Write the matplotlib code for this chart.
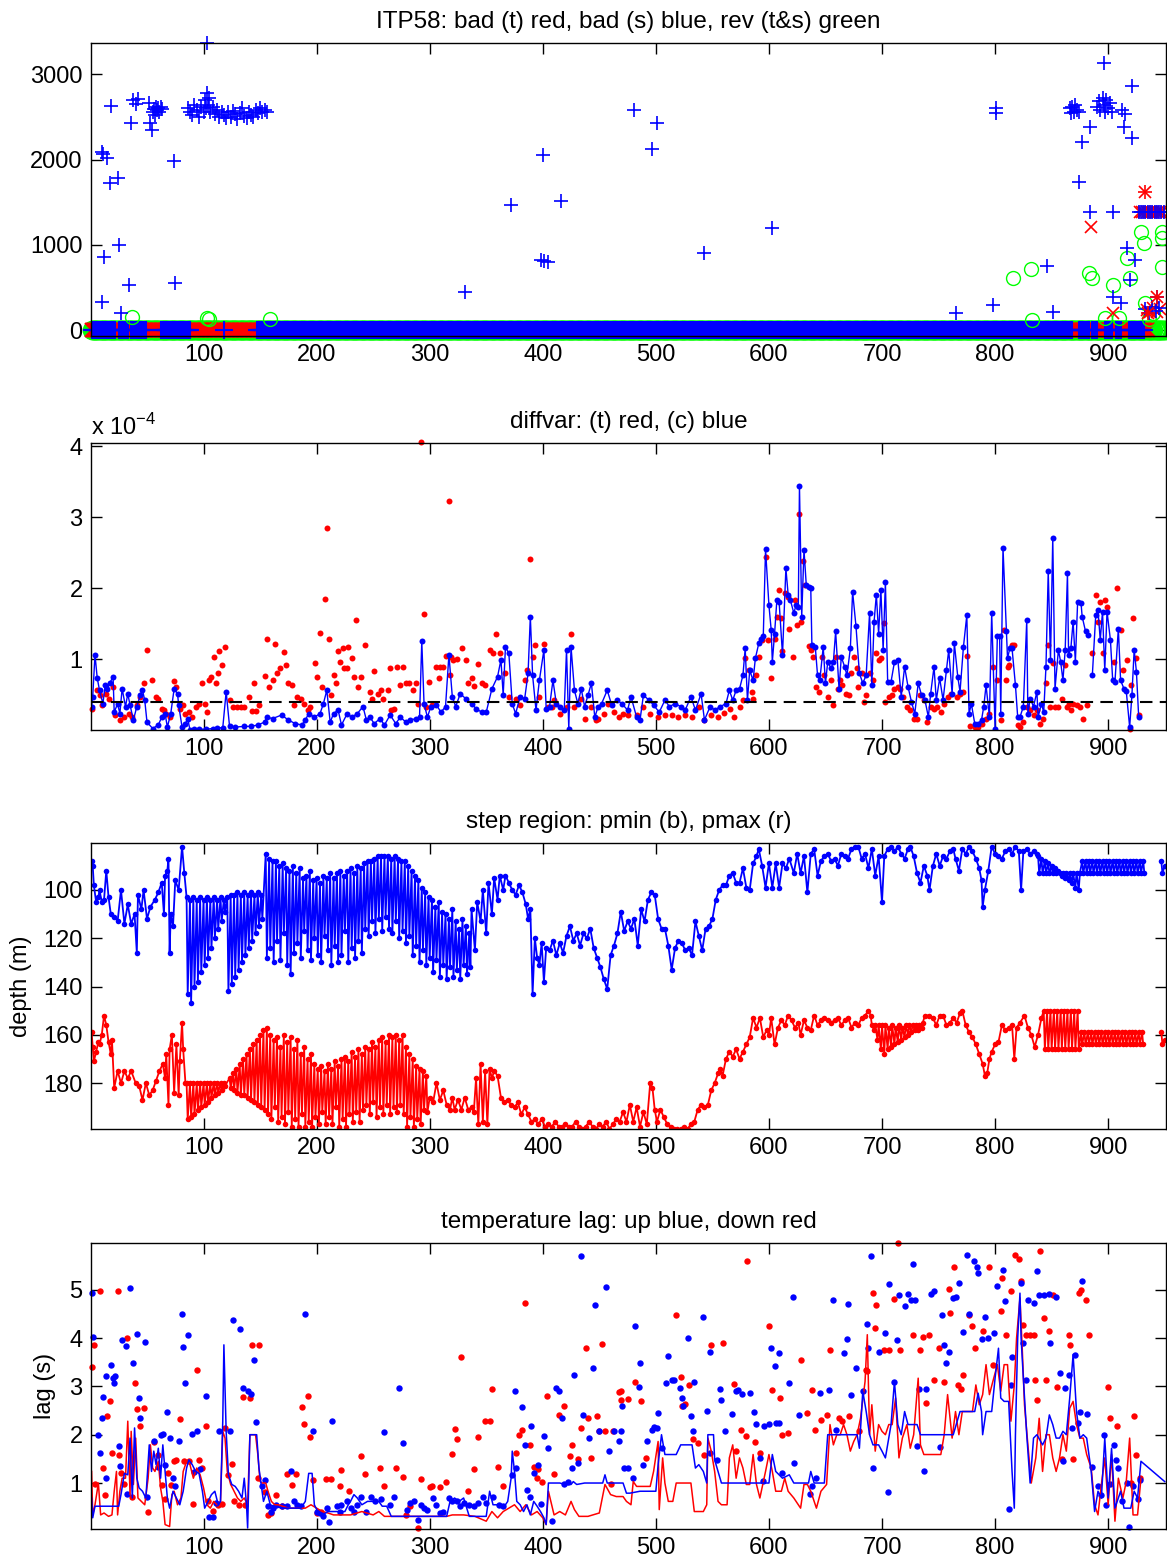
import matplotlib
matplotlib.use('Agg')
import matplotlib.pyplot as plt
import numpy as np

plt.rcParams['font.family'] = ['Liberation Sans', 'DejaVu Sans']
plt.rcParams['font.size'] = 17

# ---------------- panel 1: bad / reversed flags (profile, pressure) ----------------
rev_band = [(1, 950)]
bad_t_band = [(1, 935)]
bad_s_band = [(1, 12), (14, 22), (25, 33), (36, 49), (62, 88), (118, 118), (147, 868),
              (874, 883), (886, 890), (897, 903), (907, 911), (918, 932)]

bad_s_pts = [(10, 2090), (11, 2065), (15, 2017), (17, 1725), (18, 2626), (24, 1784), (12, 863),
             (25, 1000), (10, 337), (27, 208), (34, 532), (36, 2423), (38, 2696), (42, 2710),
             (40, 2650), (52, 2660), (53, 2423), (54, 2340), (55, 2560), (56, 2590), (57, 2520),
             (58, 2610), (59, 2580), (60, 2600), (61, 2560), (62, 2610), (63, 2590), (74, 1982),
             (75, 552), (103, 3360),
             (86, 2600), (88, 2560), (90, 2520), (92, 2640), (94, 2580), (96, 2500), (98, 2620),
             (100, 2560), (101, 2700), (102, 2600), (103, 2780), (104, 2640), (105, 2720),
             (106, 2560), (108, 2610), (110, 2530), (112, 2580), (114, 2500), (116, 2560),
             (118, 2520), (120, 2480), (122, 2550), (124, 2500), (126, 2570), (128, 2530),
             (130, 2470), (132, 2540), (134, 2600), (136, 2510), (138, 2480), (140, 2560),
             (142, 2520), (144, 2500), (146, 2580), (148, 2540), (150, 2600), (152, 2560),
             (154, 2580), (156, 2550),
             (331, 450), (372, 1468), (400, 2050), (398, 825), (401, 810), (405, 800), (416, 1515),
             (481, 2577), (501, 2427), (497, 2123), (543, 906), (603, 1195), (765, 208), (798, 298),
             (801, 2598), (801, 2540), (846, 754), (851, 220),
             (866, 2600), (867, 2540), (868, 2620), (870, 2560), (871, 2640), (872, 2580),
             (874, 2550), (874, 1741), (877, 2208), (884, 2377), (884, 1390), (890, 2620),
             (892, 2680), (893, 2580), (895, 2720), (896, 2640), (897, 2560), (898, 2700),
             (900, 2600), (902, 2660), (903, 2560), (896, 3125), (904, 1390), (904, 395),
             (911, 322), (912, 2580), (915, 2530), (914, 2377), (917, 965), (921, 2860),
             (921, 2250), (924, 825), (919, 590),
             (927, 1390), (929, 1390), (931, 1390), (933, 1390), (935, 1390), (937, 1390),
             (939, 1390), (941, 1390), (943, 1390), (945, 1390), (947, 1390), (949, 1390),
             (933, 250), (936, 210), (939, 270), (942, 230), (945, 260), (943, 395)]

bad_t_pts = [(885, 1214), (904, 204),
             (928, 1390), (930, 1390), (932, 1390), (934, 1390), (936, 1390), (938, 1390),
             (940, 1390), (942, 1390), (944, 1390), (946, 1390), (948, 1390),
             (934, 240), (937, 220), (940, 260), (943, 215), (946, 250)]
bad_t_star = [(933, 1623), (943, 395), (935, 205)]

rev_pts = [(37, 162), (103, 150), (105, 130), (159, 140), (816, 610), (832, 716), (833, 123),
           (883, 672), (886, 610), (897, 146), (904, 532), (910, 146), (917, 848), (919, 610),
           (929, 1156), (932, 1020), (933, 322), (948, 1156), (948, 1080), (948, 746),
           (940, 200), (936, 130)]

# ---------------- panel 2: diffvar (units of 1e-4) ----------------
diffvar_c = [(1, 0.33), (2, 0.47), (4, 1.06), (6, 0.73), (8, 0.56), (11, 0.37), (13, 0.63),
             (15, 0.58), (17, 0.66), (20, 0.75), (21, 0.25), (24, 0.37), (26, 0.23), (28, 0.58),
             (31, 0.33), (33, 0.51), (35, 0.35), (38, 0.14), (41, 0.33), (44, 0.49), (46, 0.56),
             (48, 0.42), (50, 0.11), (55, 0.02), (60, 0.07), (63, 0.18), (66, 0.23), (68, 0.04),
             (71, 0.23), (74, 0.58), (77, 0.51), (78, 0.35), (81, 0.04), (84, 0.09), (86, 0.16),
             (88, 0.0), (92, 0.02), (96, 0.01), (102, 0.01), (108, 0.02), (112, 0.03), (117, 0.03),
             (120, 0.54), (123, 0.05), (128, 0.04), (136, 0.05), (142, 0.05), (148, 0.07),
             (154, 0.11), (156, 0.18), (161, 0.16), (169, 0.21), (175, 0.14), (181, 0.09),
             (187, 0.07), (190, 0.14), (193, 0.23), (198, 0.18), (203, 0.23), (206, 0.37),
             (209, 0.56), (212, 0.11), (215, 0.23), (219, 0.28), (222, 0.07), (227, 0.23),
             (231, 0.18), (236, 0.23), (241, 0.33), (244, 0.14), (247, 0.18), (251, 0.09),
             (256, 0.16), (260, 0.07), (265, 0.21), (270, 0.09), (274, 0.18), (279, 0.11),
             (283, 0.14), (288, 0.16), (291, 0.18), (293, 1.25), (295, 0.37), (298, 0.18),
             (301, 0.33), (306, 0.35), (310, 0.25), (314, 0.33), (317, 1.06), (320, 0.47),
             (323, 0.33), (327, 0.51), (332, 0.44), (337, 0.37), (341, 0.30), (346, 0.25),
             (350, 0.25), (355, 0.58), (360, 0.75), (363, 0.99), (365, 0.49), (367, 1.17),
             (370, 1.08), (373, 0.37), (376, 0.23), (380, 0.47), (384, 0.44), (387, 0.80),
             (389, 1.60), (391, 0.77), (394, 0.28), (397, 0.70), (401, 1.13), (403, 0.30),
             (406, 0.33), (409, 0.70), (412, 0.37), (415, 0.33), (419, 0.28), (421, 1.13),
             (423, 0.02), (425, 1.17), (428, 0.56), (431, 0.37), (434, 0.58), (437, 0.33),
             (440, 0.49), (443, 0.66), (446, 0.18), (449, 0.33), (452, 0.37), (457, 0.56),
             (461, 0.35), (466, 0.42), (470, 0.37), (475, 0.28), (478, 0.47), (483, 0.18),
             (486, 0.14), (489, 0.49), (494, 0.42), (498, 0.35), (503, 0.25), (508, 0.42),
             (512, 0.33), (517, 0.37), (522, 0.33), (526, 0.28), (531, 0.47), (535, 0.28),
             (540, 0.51), (543, 0.14), (548, 0.33), (552, 0.28), (557, 0.33), (562, 0.37),
             (565, 0.56), (568, 0.42), (571, 0.56), (574, 0.58), (577, 0.77), (579, 1.15),
             (581, 0.42), (583, 0.84), (586, 0.70), (588, 1.01), (591, 1.22), (593, 1.29),
             (595, 1.32), (597, 2.55), (600, 1.76), (602, 1.41), (603, 0.96), (605, 1.36),
             (607, 1.83), (609, 1.81), (612, 1.06), (615, 2.28), (617, 1.91), (619, 1.83),
             (622, 1.65), (624, 1.76), (626, 1.74), (627, 3.44), (629, 1.60), (631, 2.54),
             (633, 2.05), (635, 2.02), (637, 2.00), (638, 1.20), (641, 1.17), (643, 0.77),
             (645, 0.70), (648, 1.17), (650, 0.66), (652, 0.96), (655, 0.87), (657, 0.96),
             (659, 1.39), (662, 0.58), (664, 1.03), (667, 0.89), (669, 0.77), (672, 1.15),
             (674, 1.95), (677, 1.46), (680, 0.80), (683, 0.66), (686, 0.77), (689, 1.65),
             (691, 0.63), (693, 1.53), (695, 1.91), (697, 1.36), (699, 1.98), (701, 1.13),
             (703, 2.09), (705, 0.68), (708, 0.68), (711, 0.96), (714, 0.99), (717, 0.47),
             (720, 0.89), (723, 0.61), (726, 0.40), (729, 0.23), (732, 0.66), (735, 0.49),
             (738, 0.42), (741, 0.18), (743, 0.51), (746, 0.89), (748, 0.42), (751, 0.73),
             (754, 0.42), (757, 0.84), (759, 1.13), (762, 0.51), (764, 1.22), (767, 0.75),
             (769, 0.54), (772, 1.17), (775, 1.62), (777, 0.23), (779, 0.37), (782, 0.09),
             (785, 0.09), (788, 0.14), (790, 0.33), (792, 0.63), (795, 0.18), (797, 1.65),
             (800, 0.02), (802, 1.32), (804, 1.32), (805, 0.23), (807, 2.57), (810, 1.39),
             (811, 1.01), (813, 1.15), (815, 1.15), (818, 0.63), (820, 0.18), (822, 0.18),
             (825, 0.33), (828, 1.55), (829, 0.23), (831, 0.44), (834, 0.33), (837, 0.54),
             (838, 0.18), (841, 0.37), (843, 0.25), (845, 0.89), (847, 2.24), (849, 0.99),
             (851, 2.71), (853, 0.58), (856, 1.13), (858, 0.96), (860, 0.70), (862, 1.13),
             (864, 2.21), (865, 1.06), (867, 1.15), (869, 1.53), (871, 0.96), (873, 1.81),
             (876, 1.79), (877, 1.60), (880, 1.39), (882, 1.34), (884, np.nan), (886, 0.77),
             (889, 1.62), (891, 1.69), (893, 1.27), (895, 1.67), (897, 0.84), (899, 1.67),
             (902, 1.27), (904, 0.70), (906, 0.68), (909, 1.43), (911, 0.70), (914, 0.58),
             (916, 0.55), (919, 0.04), (921, 0.49), (923, 1.13), (925, 0.82), (927, 0.18)]

diffvar_t = [(1, 0.30), (6, 0.56), (8, 0.49), (10, 0.35), (14, 0.51), (16, 0.44), (20, 0.61),
             (22, 0.21), (26, 0.14), (30, 0.18), (34, 0.23), (37, 0.18), (41, 0.35), (44, 0.47),
             (47, 0.66), (50, 1.13), (54, 0.71), (58, 0.47), (60, 0.44), (63, 0.30), (65, 0.28),
             (67, 0.23), (70, 0.18), (74, 0.69), (76, 0.61), (79, 0.30), (82, 0.35), (84, 0.23),
             (87, 0.25), (90, 0.18), (93, 0.33), (96, 0.37), (99, 0.66), (101, 0.37), (103, 0.25),
             (105, 0.70), (107, 0.74), (109, 1.03), (111, 0.66), (113, 0.80), (114, 1.12),
             (116, 0.92), (119, 1.17), (123, 0.42), (126, 0.33), (130, 0.32), (133, 0.33),
             (136, 0.33), (140, 0.47), (143, 0.27), (145, 0.66), (146, 0.27), (149, 0.35),
             (154, 0.76), (156, 1.29), (158, 0.60), (161, 0.70), (163, 1.21), (165, 0.80),
             (168, 0.87), (171, 1.10), (173, 0.92), (175, 0.66), (178, 0.63), (180, 0.35),
             (183, 0.47), (186, 0.44), (189, 0.37), (192, 0.28), (194, 0.33), (199, 0.94),
             (200, 0.75), (203, 1.37), (205, 0.61), (207, 1.85), (209, 2.85), (211, 1.28),
             (213, 0.49), (215, 0.77), (217, 0.66), (219, 1.12), (221, 0.96), (223, 1.15),
             (224, 0.88), (227, 0.88), (228, 1.17), (231, 1.02), (233, 0.75), (235, 1.55),
             (237, 0.61), (239, 0.74), (243, 1.20), (247, 0.54), (249, 0.44), (251, 0.83),
             (254, 0.51), (257, 0.56), (259, 0.44), (263, 0.56), (265, 0.87), (266, 0.28),
             (268, 0.29), (271, 0.89), (274, 0.64), (276, 0.89), (279, 0.66), (282, 0.66),
             (285, 0.56), (288, 0.66), (290, 0.37), (292, 4.06), (295, 1.63), (297, 0.33),
             (299, 0.68), (302, 0.35), (306, 0.89), (308, 0.73), (309, 0.89), (312, 0.89),
             (314, 1.04), (317, 3.23), (318, 0.77), (319, 1.03), (321, 0.99), (324, 1.00),
             (329, 1.15), (332, 0.98), (334, 0.66), (337, 0.73), (339, 0.62), (343, 0.93),
             (346, 0.66), (349, 0.63), (353, 1.13), (356, 1.09), (359, 1.36), (362, 1.08),
             (367, 0.80), (370, 0.47), (376, 0.44), (380, 0.35), (384, 0.71), (386, 0.84),
             (389, 2.41), (391, 1.03), (393, 1.20), (397, 0.47), (401, 1.21), (405, 0.33),
             (408, 0.33), (410, 0.42), (415, 0.23), (421, 0.33), (425, 1.35), (428, 0.33),
             (434, 0.44), (437, 0.16), (443, 0.33), (447, 0.14), (449, 0.16), (454, 0.23),
             (458, 0.37), (463, 0.25), (467, 0.18), (471, 0.23), (475, 0.21), (483, 0.21),
             (489, 0.33), (495, 0.23), (502, 0.18), (508, 0.21), (514, 0.21), (520, 0.18),
             (526, 0.21), (532, 0.18), (538, 0.33), (543, 0.14), (549, 0.21), (555, 0.18),
             (560, 0.24), (566, 0.30), (569, 0.18), (574, 0.33), (577, 0.42), (579, 1.01),
             (582, 0.84), (585, 0.54), (586, 0.44), (589, 0.77), (591, 1.03), (594, 1.27),
             (597, 2.44), (599, 1.27), (602, 0.73), (605, 1.29), (607, 1.60), (609, 1.97),
             (611, 1.58), (612, 1.12), (614, 1.93), (617, 1.88), (618, 1.43), (621, 1.03),
             (623, 1.83), (625, 1.48), (627, 3.05), (628, 1.53), (630, 2.38), (632, 2.05),
             (635, 1.18), (637, 1.13), (639, 1.03), (642, 0.61), (644, 0.54), (647, 1.03),
             (649, 0.77), (652, 0.47), (655, 0.70), (657, 0.35), (659, 1.03), (661, 0.58),
             (663, 0.71), (665, 0.63), (668, 0.51), (671, 0.49), (673, 0.80), (675, 1.03),
             (678, 0.87), (679, 0.60), (682, 0.80), (684, 0.40), (686, 0.49), (689, 0.80),
             (692, 0.71), (695, 1.08), (697, 0.99), (699, 1.01), (702, 1.51), (703, 0.40),
             (706, 0.47), (709, 0.49), (711, 0.58), (714, 0.61), (716, 0.58), (719, 0.47),
             (722, 0.33), (725, 0.28), (728, 0.16), (731, 0.16), (734, 0.49), (737, 0.42),
             (740, 0.11), (743, 0.33), (746, 0.30), (749, 0.33), (752, 0.25), (755, 0.37),
             (758, 0.47), (761, 0.51), (766, 0.47), (769, 0.51), (772, 0.54), (775, 1.04),
             (778, 0.05), (782, 0.04), (785, 0.04), (788, 0.09), (792, 0.16), (795, 0.23),
             (798, 0.89), (802, 0.70), (805, 0.14), (808, 1.41), (810, 0.70), (811, 0.89),
             (812, 0.92), (815, 1.20), (817, 1.20), (820, 0.07), (822, 0.04), (825, 0.11),
             (828, 0.33), (831, 0.28), (834, 0.21), (837, 0.28), (840, 0.08), (842, 0.16),
             (845, 0.66), (847, 1.20), (849, 0.33), (851, 0.94), (853, 0.33), (856, 0.33),
             (859, 0.44), (862, 0.92), (864, 0.33), (865, 0.37), (867, 0.28), (869, 0.37),
             (872, 0.35), (875, 0.33), (878, 0.16), (881, 0.35), (886, 1.08), (889, 1.91),
             (891, 1.53), (893, 1.81), (895, 1.08), (897, 1.83), (899, 1.74), (905, 0.96),
             (908, 2.00), (911, 1.41), (913, 0.84), (917, 0.99), (919, 0.02), (920, 0.63),
             (922, 1.58), (925, 1.01), (927, 0.21)]
diffvar_thresh = 0.4

# ---------------- panel 3: step region depths ----------------
# plain stretches (profile, depth)
pmin_a = [(1, 88), (2, 90), (3, 98), (5, 105), (7, 103), (8, 100), (10, 105), (12, 104), (14, 92),
          (16, 103), (18, 110), (21, 111), (24, 113), (27, 100), (30, 114), (33, 106), (36, 114),
          (39, 110), (41, 126), (42, 102), (45, 108), (47, 100), (50, 112), (53, 107), (57, 104),
          (60, 101), (63, 97), (65, 110), (66, 94), (68, 92), (69, 87), (70, 126), (71, 110),
          (73, 115), (75, 96), (78, 100), (81, 82), (83, 93)]
# alternating up/down casts: (profile, first, next)
pmin_zz1 = [(85, 103, 143), (88, 104, 147), (91, 103, 140), (94, 104, 138), (97, 103, 134),
            (100, 104, 131), (103, 103, 128), (106, 104, 124), (109, 103, 120), (112, 104, 116),
            (115, 103, 113), (118, 104, 109), (121, 103, 142), (124, 102, 139), (127, 102, 136),
            (130, 101, 133), (133, 102, 130), (136, 101, 127), (139, 102, 124), (142, 101, 121),
            (145, 102, 118), (148, 101, 115), (151, 102, 112),
            (155, 85, 128), (158, 87, 124), (161, 88, 130), (164, 88, 121), (167, 90, 129),
            (170, 89, 118), (173, 91, 131), (176, 92, 135), (179, 90, 126), (182, 93, 122),
            (185, 91, 128), (188, 95, 117), (191, 94, 125), (194, 92, 129), (197, 96, 120),
            (200, 95, 127), (203, 97, 130), (206, 94, 119), (209, 95, 125), (212, 93, 131),
            (215, 95, 123), (218, 93, 130), (221, 92, 127), (224, 94, 117), (227, 92, 130),
            (230, 91, 124), (233, 93, 128), (236, 90, 121), (239, 91, 126), (242, 89, 116),
            (245, 88, 119), (248, 88, 113), (251, 87, 118), (254, 86, 112), (257, 86, 117),
            (260, 86, 111), (263, 86, 116), (266, 87, 118), (269, 86, 113), (272, 87, 120),
            (275, 88, 117), (278, 88, 122), (281, 90, 119), (284, 92, 127), (287, 94, 123),
            (290, 96, 130), (293, 99, 125), (296, 101, 131), (299, 103, 128), (302, 104, 134),
            (305, 107, 129), (308, 105, 136), (311, 109, 131), (314, 110, 137), (317, 112, 132),
            (320, 108, 136), (323, 113, 133), (326, 116, 137), (329, 112, 131), (332, 115, 135),
            (335, 118, 132)]
pmin_b = [(337, 108), (340, 125), (342, 105), (345, 113), (347, 100), (350, 118), (352, 97),
          (355, 110), (357, 95), (360, 104), (362, 94), (365, 100), (367, 94), (370, 97), (373, 100),
          (376, 102), (379, 98), (382, 101), (385, 106), (387, 112), (389, 108), (391, 143),
          (393, 120), (395, 128), (397, 131), (399, 122), (401, 138), (403, 124), (406, 125),
          (409, 121), (412, 127), (415, 122), (418, 126), (421, 119), (424, 115), (427, 121),
          (430, 118), (433, 123), (436, 118), (439, 120), (442, 116), (445, 124), (448, 128),
          (451, 132), (454, 137), (457, 141), (460, 127), (463, 123), (466, 118), (469, 109),
          (472, 117), (475, 113), (478, 116), (481, 112), (484, 123), (487, 108), (490, 113),
          (493, 104), (496, 101), (499, 102), (502, 112), (505, 116), (508, 116), (511, 123),
          (514, 133), (517, 124), (520, 121), (523, 122), (526, 125), (529, 124), (532, 127),
          (535, 113), (538, 119), (541, 125), (544, 116), (547, 115), (550, 112), (553, 104),
          (556, 100), (559, 98), (562, 98), (565, 94), (568, 93), (571, 97), (574, 97), (577, 91),
          (580, 99), (583, 100), (586, 89), (589, 86), (591, 83), (594, 90), (597, 99), (600, 89),
          (603, 99), (606, 89), (609, 99), (612, 89), (615, 91), (618, 87), (622, 93), (625, 85),
          (628, 93), (631, 86), (634, 101), (637, 85), (640, 83), (643, 94), (646, 88), (649, 86),
          (652, 85), (655, 88), (658, 87), (661, 90), (664, 85), (667, 86), (670, 87), (673, 83),
          (676, 82), (679, 82), (682, 87), (685, 85), (688, 91), (691, 83), (694, 94), (697, 86),
          (700, 105), (702, 86), (705, 83), (708, 82), (711, 84), (714, 82), (717, 85), (720, 87),
          (723, 83), (725, 82), (728, 86), (731, 93), (734, 97), (737, 90), (740, 94), (742, 100),
          (745, 90), (748, 85), (751, 90), (754, 86), (757, 87), (760, 84), (763, 83), (765, 87),
          (768, 92), (771, 83), (774, 85), (777, 82), (780, 84), (783, 87), (786, 91), (788, 96),
          (789, 107), (791, 100), (794, 92), (797, 82), (800, 85), (803, 86), (806, 87), (809, 84),
          (812, 83), (815, 85), (818, 82), (821, 84), (823, 100), (825, 84), (828, 83), (831, 85),
          (834, 84), (837, 85)]
pmin_zz2 = [(838, 86, 93), (841, 87, 93), (844, 88, 93), (847, 89, 93), (850, 90, 93),
            (853, 91, 93), (856, 92, 93), (859, 94, 93), (862, 95, 93), (865, 96, 93),
            (868, 97, 93), (871, 99, 93), (874, 100, 93), (877, 88, 93), (880, 88, 93),
            (883, 88, 93), (886, 88, 93), (889, 88, 93), (892, 88, 93), (895, 88, 93),
            (898, 88, 93), (901, 88, 93), (904, 88, 93), (907, 88, 93), (910, 88, 93),
            (913, 88, 93), (916, 88, 93), (919, 88, 93), (922, 88, 93), (925, 88, 93),
            (928, 88, 93), (931, 88, 93)]
pmin_c = [(935, np.nan), (947, 88), (948, 93), (950, 90)]

pmax_a = [(1, 159), (2, 165), (3, 171), (5, 167), (7, 163), (8, 164), (10, 160), (12, 152),
          (14, 156), (16, 163), (18, 168), (19, 162), (21, 182), (24, 175), (27, 180), (30, 175),
          (33, 178), (36, 175), (40, 180), (43, 181), (46, 187), (49, 180), (52, 185), (55, 183),
          (58, 179), (61, 175), (64, 172), (66, 178), (67, 168), (69, 189), (70, 166), (72, 160),
          (74, 184), (76, 164), (78, 185), (79, 171), (81, 155), (82, 166), (84, 180)]
pmax_zz1 = [(85, 180, 195), (88, 180, 194), (91, 180, 193), (94, 180, 191), (97, 180, 190),
            (100, 180, 189), (103, 180, 188), (106, 180, 186), (109, 180, 185), (112, 180, 184),
            (115, 180, 183), (118, 180, 181), (123, 178, 182), (126, 176, 183), (129, 174, 184),
            (132, 172, 185), (135, 170, 185), (138, 168, 186), (141, 166, 187), (144, 164, 188),
            (147, 162, 189), (150, 160, 190), (153, 158, 191),
            (156, 157, 193), (159, 160, 195), (162, 162, 190), (165, 161, 196), (168, 165, 194),
            (171, 160, 197), (174, 163, 192), (177, 161, 198), (180, 166, 195), (183, 162, 198),
            (186, 168, 193), (189, 165, 198), (192, 170, 196), (195, 168, 198), (198, 172, 194),
            (201, 174, 197), (204, 173, 192), (207, 175, 197), (210, 172, 194), (213, 174, 197),
            (216, 171, 190), (219, 173, 198), (222, 170, 195), (225, 169, 198), (228, 171, 193),
            (231, 167, 196), (234, 169, 192), (237, 166, 196), (240, 168, 191), (243, 165, 189),
            (246, 166, 193), (249, 163, 188), (252, 165, 194), (255, 162, 190), (258, 161, 193),
            (261, 163, 189), (264, 160, 193), (267, 161, 190), (270, 160, 192), (273, 162, 189),
            (276, 160, 193), (279, 165, 198), (282, 168, 194), (285, 170, 198), (288, 173, 195),
            (291, 174, 197), (294, 175, 191), (297, 177, 192)]
pmax_b = [(300, 186), (303, 188), (306, 180), (309, 187), (312, 183), (315, 189), (318, 191),
          (320, 186), (322, 191), (325, 187), (328, 191), (331, 186), (334, 191), (337, 190),
          (339, 192), (341, 178), (343, 197), (345, 172), (347, 196), (349, 175), (351, 197),
          (353, 174), (355, 178), (357, 175), (360, 177), (363, 186), (366, 188), (369, 187),
          (372, 189), (375, 190), (378, 188), (381, 193), (384, 190), (387, 193), (390, 196),
          (393, 195), (396, 197), (399, 195), (402, 198), (405, 197), (408, 198), (411, 196),
          (414, 198), (417, 198), (420, 197), (423, 198), (426, 198), (429, 196), (432, 198),
          (435, 199), (438, 198), (441, 196), (444, 198), (447, 199), (450, 197), (453, 198),
          (456, 196), (459, 199), (462, 197), (465, 195), (468, 196), (471, 192), (474, 196),
          (477, 189), (480, 196), (483, 190), (486, 198), (489, 192), (492, 197), (495, 180),
          (497, 182), (499, 191), (501, 196), (504, 191), (507, 194), (510, 197), (513, 198),
          (516, 199), (519, 199), (522, 199), (525, 198), (528, 199), (531, 197), (534, 196),
          (537, 191), (540, 189), (543, 190), (546, 189), (549, 183), (552, 180), (555, 176),
          (557, 174), (559, 177), (562, 170), (565, 167), (568, 169), (571, 166), (574, 170),
          (577, 167), (580, 164), (583, 161), (586, 153), (589, 157), (592, 153), (595, 161),
          (598, 158), (600, 160), (602, 153), (605, 164), (608, 157), (611, 154), (614, 156),
          (617, 152), (620, 154), (623, 157), (626, 155), (628, 160), (631, 154), (634, 157),
          (637, 158), (640, 152), (643, 156), (646, 154), (649, 153), (652, 154), (655, 155),
          (658, 154), (661, 153), (664, 156), (667, 154), (670, 153), (673, 157), (676, 155),
          (679, 156), (682, 153), (685, 152), (688, 150)]
pmax_zz2 = [(690, 152, 156), (693, 158, 156), (696, 162, 156), (699, 166, 156), (702, 168, 156),
            (705, 166, 157), (708, 165, 156), (711, 164, 157), (714, 163, 156), (717, 162, 157),
            (720, 161, 156), (723, 160, 156), (726, 159, 156), (729, 158, 156), (732, 158, 156),
            (735, 157, 155)]
pmax_c = [(738, 152), (742, 152), (745, 153), (748, 156), (751, 152), (754, 152), (757, 156),
          (760, 155), (763, 153), (766, 155), (769, 151), (771, 150), (774, 156), (777, 159),
          (780, 161), (783, 164), (786, 168), (789, 172), (791, 177), (793, 176), (795, 170),
          (797, 167), (800, 164), (803, 163), (806, 156), (809, 158), (812, 157), (815, 156),
          (817, 170), (819, 157), (822, 155), (826, 152), (829, 157), (832, 160), (835, 165),
          (838, 160), (841, 153)]
pmax_zz3 = [(843, 150, 166), (846, 150, 166), (849, 150, 166), (852, 150, 166), (855, 150, 166),
            (858, 150, 166), (861, 150, 166), (864, 150, 166), (867, 150, 166), (870, 150, 166),
            (873, 150, 166), (876, 159, 164), (879, 159, 164), (882, 159, 164), (885, 159, 164),
            (888, 159, 164), (891, 159, 164), (894, 159, 164), (897, 159, 164), (900, 159, 164),
            (903, 159, 164), (906, 159, 164), (909, 159, 164), (912, 159, 164), (915, 159, 164),
            (918, 159, 164), (921, 159, 164), (924, 159, 164), (927, 159, 164), (930, 159, 164)]
pmax_d = [(935, np.nan), (947, 159), (948, 164), (950, 162)]

# ---------------- panel 4: temperature lag (s) ----------------
lag_up_line = [(1, 0.69), (2, 0.28), (4, 0.52), (10, 0.52), (20, 0.52), (25, 0.52), (27, 0.76),
               (30, 1.2), (33, 1.17), (35, 1.93), (37, 0.69), (39, 2.14), (41, 1.1), (43, 0.9),
               (46, 0.83), (49, 0.69), (52, 1.79), (54, 1.24), (56, 1.66), (58, 1.38), (60, 1.72),
               (62, 1.1), (64, 1.79), (66, 1.24), (68, 0.69), (70, 0.48), (73, 0.83), (76, 0.69),
               (79, 0.55), (82, 0.83), (85, 1.31), (87, 1.48), (90, 1.38), (93, 1.24), (96, 1.2),
               (99, 0.83), (101, 0.48), (104, 0.62), (107, 0.76), (110, 0.83), (113, 0.55),
               (115, 0.62), (117, 2.28), (118, 3.86), (120, 2.07), (122, 1.17), (125, 0.97),
               (128, 0.93), (131, 0.83), (134, 0.69), (136, 1.1), (138, 0.55), (139, 0.07),
               (141, 2.0), (147, 2.0), (149, 1.31), (151, 0.97), (153, 0.62), (156, 0.83),
               (159, 0.55), (162, 0.52), (170, 0.48), (180, 0.48), (186, 0.48), (190, 0.62),
               (193, 1.2), (196, 1.2), (198, 0.55), (201, 0.41), (205, 0.34), (210, 0.41),
               (215, 0.41), (220, 0.41), (225, 0.41), (228, 0.55), (230, 0.62), (233, 0.76),
               (236, 0.69), (240, 0.55), (245, 0.62), (250, 0.62), (255, 0.62), (258, 0.52),
               (262, 0.52), (266, 0.31), (275, 0.31), (285, 0.31), (295, 0.31), (305, 0.31),
               (315, 0.31), (318, 0.62), (322, 0.69), (326, 0.62), (330, 0.69), (335, 0.31),
               (340, 0.31), (345, 0.31), (350, 0.31), (353, 0.83), (356, 0.55), (360, 0.55),
               (365, 0.48), (369, 0.62), (372, 1.1), (373, 1.66), (375, 1.24), (377, 0.62),
               (380, 0.55), (383, 0.41), (386, 0.55), (389, 0.34), (392, 0.62), (395, 0.52),
               (398, 0.41), (401, 0.28), (403, 0.14), (405, 1.0), (410, 1.0), (415, 1.0),
               (420, 0.97), (425, 0.97), (427, 1.03), (430, 0.97), (437, 1.0), (445, 1.0),
               (450, 1.0), (453, 1.0), (455, 1.17), (457, 1.0), (465, 1.0), (471, 1.0),
               (474, 0.79), (477, 0.79), (486, 0.83), (495, 0.83), (500, 0.83), (502, 1.38),
               (505, 2.0), (508, 1.59), (512, 1.59), (518, 1.59), (522, 1.79), (532, 1.79),
               (535, 1.31), (538, 1.38), (542, 1.24), (545, 1.0), (546, 2.0), (551, 2.0),
               (552, 1.48), (555, 1.24), (558, 1.0), (569, 1.0), (585, 1.0), (600, 1.0),
               (603, 1.59), (606, 1.24), (612, 1.1), (618, 1.17), (622, 1.0), (635, 1.0),
               (637, 1.24), (640, 1.0), (649, 1.0), (652, 2.0), (665, 2.0), (671, 2.0), (678, 2.0),
               (680, 1.72), (683, 2.9), (686, 2.48), (689, 2.0), (692, 1.79), (697, 1.79),
               (700, 1.66), (703, 1.52), (708, 2.21), (711, 3.1), (714, 2.21), (717, 2.0),
               (720, 2.48), (723, 2.21), (726, 2.21), (731, 2.21), (734, 2.0), (745, 2.0),
               (754, 2.0), (763, 2.0), (769, 2.48), (782, 2.48), (785, 2.86), (788, 2.48),
               (789, 2.0), (792, 2.48), (797, 2.48), (800, 3.17), (803, 3.79), (805, 2.76),
               (808, 2.69), (812, 2.69), (815, 1.24), (817, 0.48), (818, 2.0), (820, 4.0),
               (822, 4.93), (823, 4.0), (825, 3.17), (828, 2.0), (831, 1.0), (834, 1.93),
               (837, 2.0), (842, 1.79), (845, 1.93), (848, 2.41), (851, 2.21), (854, 1.93),
               (857, 1.93), (860, 2.07), (863, 2.0), (866, 2.76), (869, 3.66), (872, 2.48),
               (875, 1.93), (878, 2.0), (881, 1.93), (885, 1.24), (888, 0.41), (891, 0.83),
               (894, 0.69), (897, 1.93), (900, 0.69), (903, 1.72), (906, 0.48), (911, 0.83),
               (914, 0.48), (920, 0.48), (923, 0.83), (926, 0.69), (929, 1.45), (950, 1.03)]

lag_down_line = [(1, 1.24), (2, 0.34), (4, 0.55), (7, 1.0), (9, 0.34), (12, 0.38), (16, 0.31),
                 (19, 0.34), (21, 0.83), (23, 1.24), (24, 0.34), (26, 0.83), (28, 1.1), (31, 1.1),
                 (33, 2.28), (35, 0.76), (36, 2.07), (38, 0.97), (40, 1.93), (42, 0.69), (45, 0.62),
                 (48, 0.55), (51, 1.1), (53, 1.79), (55, 1.31), (57, 1.24), (60, 1.45), (62, 0.9),
                 (64, 0.62), (66, 0.14), (70, 0.1), (72, 0.76), (74, 0.83), (77, 0.55), (80, 0.69),
                 (82, 1.24), (85, 1.45), (88, 1.38), (91, 1.1), (94, 1.31), (97, 1.17), (100, 0.9),
                 (103, 0.55), (106, 0.48), (109, 0.62), (112, 0.55), (115, 0.62), (117, 2.07),
                 (119, 1.93), (121, 1.24), (124, 0.97), (127, 0.83), (130, 0.69), (133, 0.62),
                 (136, 0.69), (139, 0.55), (141, 2.0), (146, 2.0), (148, 1.59), (150, 1.03),
                 (152, 1.0), (155, 1.0), (157, 0.83), (160, 0.62), (163, 0.55), (166, 0.55),
                 (170, 0.52), (175, 0.48), (180, 0.48), (190, 0.48), (195, 0.55), (200, 0.48),
                 (205, 0.41), (210, 0.38), (215, 0.34), (220, 0.34), (230, 0.34), (240, 0.41),
                 (250, 0.34), (255, 0.41), (260, 0.31), (270, 0.31), (280, 0.31), (290, 0.31),
                 (300, 0.31), (310, 0.31), (315, 0.31), (320, 0.34), (330, 0.34), (340, 0.31),
                 (350, 0.21), (355, 0.41), (360, 0.28), (365, 0.41), (370, 0.48), (375, 0.55),
                 (380, 0.41), (385, 0.55), (390, 0.34), (395, 0.41), (400, 0.28), (403, 0.14),
                 (405, 0.83), (410, 0.34), (415, 0.41), (420, 0.34), (425, 0.62), (428, 0.45),
                 (432, 0.31), (440, 0.31), (450, 0.38), (455, 0.97), (460, 0.76), (465, 0.72),
                 (471, 0.72), (474, 0.62), (478, 0.55), (480, 1.03), (483, 0.93), (491, 0.93),
                 (495, 0.93), (498, 1.24), (502, 1.86), (503, 0.45), (506, 1.52), (508, 1.0),
                 (511, 0.62), (515, 0.62), (518, 1.0), (531, 1.0), (534, 0.41), (542, 0.41),
                 (545, 0.55), (546, 1.93), (549, 1.66), (552, 1.24), (555, 0.62), (558, 0.55),
                 (563, 0.55), (565, 1.52), (568, 1.79), (571, 1.1), (574, 1.52), (577, 1.31),
                 (580, 0.97), (583, 0.97), (586, 1.59), (589, 0.97), (592, 0.69), (597, 1.24),
                 (600, 1.59), (603, 1.24), (606, 0.83), (611, 0.83), (614, 1.1), (617, 0.83),
                 (622, 0.69), (628, 0.48), (631, 0.97), (634, 0.97), (637, 0.83), (642, 0.48),
                 (646, 0.83), (651, 0.97), (654, 2.21), (657, 1.79), (660, 2.0), (663, 2.0),
                 (666, 2.21), (669, 2.0), (672, 1.66), (675, 1.86), (678, 2.0), (681, 2.34),
                 (685, 3.1), (687, 4.07), (689, 2.0), (691, 2.62), (694, 1.66), (697, 2.21),
                 (700, 2.07), (703, 2.0), (706, 2.21), (709, 2.21), (712, 2.76), (715, 1.52),
                 (718, 1.93), (722, 2.21), (725, 1.72), (728, 2.0), (732, 3.17), (734, 1.79),
                 (737, 1.59), (745, 1.59), (752, 1.59), (755, 2.0), (758, 2.83), (762, 1.93),
                 (765, 2.48), (768, 2.0), (771, 2.48), (775, 2.48), (780, 2.48), (783, 3.03),
                 (786, 2.62), (789, 2.83), (792, 3.45), (795, 2.83), (798, 3.1), (802, 3.45),
                 (805, 2.9), (808, 3.45), (811, 3.45), (814, 2.28), (817, 3.03), (819, 4.0),
                 (822, 4.83), (824, 3.79), (826, 2.62), (829, 1.79), (832, 1.0), (836, 1.52),
                 (839, 2.34), (842, 1.24), (845, 2.0), (848, 2.0), (851, 1.52), (854, 1.24),
                 (857, 1.52), (860, 2.0), (863, 1.66), (866, 2.55), (869, 2.69), (872, 2.21),
                 (875, 1.93), (878, 1.93), (881, 1.59), (885, 1.31), (888, 0.55), (891, 0.34),
                 (894, 0.97), (897, 1.52), (900, 0.55), (903, 1.59), (906, 0.21), (909, 1.1),
                 (913, 0.69), (916, 1.03), (919, 1.93), (922, 0.34), (926, 0.34), (929, 1.1)]

lag_up_pts = [(1, 4.93), (2, 4.03), (7, 2.0), (8, 1.63), (10, 2.34), (11, 2.79), (14, 1.1),
              (14, 3.21), (18, 3.45), (20, 3.17), (21, 3.07), (22, 3.21), (25, 1.77), (26, 1.36),
              (28, 3.97), (31, 3.83), (32, 0.77), (35, 5.03), (38, 3.48), (41, 4.08), (43, 2.77),
              (44, 2.34), (48, 3.92), (50, 0.72), (56, 1.86), (60, 1.34), (62, 1.99), (64, 2.01),
              (66, 1.38), (68, 2.47), (70, 1.93), (73, 1.1), (75, 0.93), (78, 1.88), (81, 4.5),
              (82, 3.81), (84, 3.07), (86, 4.07), (90, 2.01), (92, 1.22), (94, 2.08), (97, 1.28),
              (102, 2.81), (105, 0.29), (108, 0.29), (111, 0.59), (114, 2.08), (123, 2.08),
              (126, 4.38), (132, 4.19), (135, 2.97), (139, 2.9), (142, 2.85), (145, 3.54),
              (146, 2.26), (152, 0.94), (154, 1.07), (157, 0.52), (160, 0.41), (161, 0.48),
              (164, 0.55), (169, 0.53), (174, 0.52), (177, 1.24), (180, 0.62), (183, 0.55),
              (186, 0.53), (190, 4.5), (197, 2.08), (200, 0.41), (203, 0.38), (206, 0.31),
              (209, 0.48), (211, 0.19), (214, 2.29), (218, 0.52), (221, 0.41), (222, 0.55),
              (227, 0.62), (230, 0.48), (233, 0.41), (236, 0.55), (239, 0.72), (244, 0.41),
              (248, 0.72), (252, 0.62), (257, 0.66), (260, 2.06), (265, 0.55), (268, 0.72),
              (273, 2.97), (276, 1.83), (280, 0.45), (283, 0.59), (286, 0.62), (290, 0.24),
              (292, 0.55), (295, 0.48), (298, 0.45), (303, 0.69), (306, 0.55), (309, 0.38),
              (312, 0.41), (317, 0.69), (320, 0.62), (324, 0.62), (327, 0.52), (330, 0.59),
              (335, 0.55), (339, 0.52), (343, 0.59), (347, 0.72), (350, 0.59), (356, 0.72),
              (361, 0.55), (365, 0.52), (373, 1.17), (375, 2.9), (376, 1.31), (382, 2.57),
              (384, 1.78), (386, 0.86), (389, 0.72), (390, 2.19), (392, 1.21), (396, 1.37),
              (398, 0.57), (401, 1.98), (405, 1.72), (408, 0.21), (412, 2.97), (414, 2.9),
              (417, 2.34), (419, 0.98), (422, 1.03), (426, 1.31), (428, 3.24), (431, 1.41),
              (434, 5.69), (436, 2.41), (441, 1.94), (444, 3.38), (446, 4.68), (450, 2.07),
              (456, 5.05), (459, 1.67), (463, 2.07), (467, 1.86),
              (469, 2.08), (470, 2.59), (472, 1.32), (475, 1.31), (480, 1.1), (482, 4.24),
              (485, 2.98), (486, 3.48), (489, 1.38), (492, 1.88), (497, 2.1), (498, 2.16),
              (501, 2.14), (502, 2.45), (505, 1.72), (509, 3.07), (511, 3.62), (514, 3.14),
              (516, 3.14), (521, 2.97), (523, 2.77), (524, 2.59), (528, 4.01), (531, 2.38),
              (533, 2.07), (534, 3.1), (542, 4.43), (545, 2.5), (548, 1.62), (548, 3.71),
              (554, 1.48), (557, 2.95), (558, 2.71), (561, 2.08), (567, 2.43), (571, 2.9),
              (573, 2.93), (576, 2.84), (583, 2.86), (587, 2.48), (589, 2.23), (592, 1.52),
              (595, 1.05), (596, 2.19), (600, 2.23), (602, 3.79), (605, 3.43), (606, 2.24),
              (609, 3.7), (609, 2.24), (612, 1.21), (618, 3.07), (621, 4.84), (622, 1.41),
              (627, 2.41), (636, 0.77), (638, 0.93), (642, 1.1), (645, 2.86), (653, 2.93),
              (657, 4.79), (659, 2.1), (666, 3.69), (669, 3.98), (670, 4.7), (673, 2.83),
              (677, 3.39), (683, 2.9), (687, 4.29), (688, 3.79), (690, 5.7), (692, 1.32),
              (697, 3.72), (703, 4.1), (705, 0.81), (706, 5.12), (711, 3.1), (713, 3.95),
              (715, 4.9), (720, 4.66), (723, 4.91), (726, 4.79), (727, 5.54), (729, 4.79),
              (731, 1.76), (733, 2.94), (737, 1.24), (739, 2.95), (743, 4.91), (746, 4.97),
              (751, 1.75), (753, 4.48), (755, 3.86), (757, 3.48), (759, 3.71), (763, 4.83),
              (765, 4.86), (768, 5.15), (772, 4.12), (775, 5.71), (777, 4.5), (781, 5.6),
              (784, 5.48), (785, 5.34), (788, 3.99), (791, 4.43), (794, 4.0), (799, 4.1),
              (802, 5.07), (807, 5.41), (809, 4.76), (812, 0.47), (814, 3.03), (815, 3.6),
              (823, 5.14), (825, 3.9), (827, 3.14), (829, 4.79), (834, 4.72), (837, 5.38),
              (839, 4.9), (843, 4.89), (848, 4.91), (849, 3.9), (854, 4.84), (857, 3.28),
              (860, 1.46), (862, 2.97), (865, 3.24), (868, 2.14), (871, 3.64), (873, 2.24),
              (875, 2.47), (877, 5.19), (881, 2.43), (886, 1.34), (891, 0.93), (894, 0.76),
              (896, 2.0), (898, 0.55), (902, 0.97), (905, 1.79), (907, 1.48), (909, 1.31),
              (912, 0.62), (917, 1.0), (918, 0.1), (922, 0.93), (926, 0.66), (928, 1.07)]

lag_down_pts = [(1, 3.41), (3, 3.86), (4, 0.98), (8, 4.97), (11, 1.31), (13, 0.76), (15, 2.38),
                (17, 2.7), (19, 1.62), (24, 4.97), (25, 1.59), (27, 1.21), (30, 0.98), (32, 4.0),
                (37, 0.72), (39, 3.07), (41, 2.54), (44, 2.17), (47, 2.55), (51, 0.4), (56, 1.85),
                (60, 1.57), (63, 0.95), (66, 0.66), (69, 1.21), (71, 0.95), (74, 1.46), (76, 1.47),
                (79, 2.32), (83, 1.46), (87, 1.46), (91, 0.57), (94, 3.33), (96, 1.47), (99, 1.31),
                (102, 2.19), (104, 0.62), (108, 0.43), (113, 0.55), (116, 0.57), (119, 2.14),
                (122, 1.17), (125, 1.39), (127, 0.62), (131, 0.55), (135, 2.78), (137, 0.55),
                (141, 2.77), (143, 3.86), (148, 1.1), (149, 3.86), (154, 0.81), (157, 0.34),
                (160, 0.38), (164, 0.76), (169, 0.52), (174, 1.19), (178, 0.95), (182, 1.19),
                (187, 2.57), (189, 2.22), (192, 2.81), (194, 1.95), (197, 1.07), (200, 0.38),
                (204, 0.41), (208, 1.08), (213, 1.08), (221, 0.94), (222, 1.26), (229, 0.83),
                (239, 1.55), (243, 1.19), (256, 1.32), (260, 0.93), (270, 1.31), (276, 1.12),
                (279, 0.33), (283, 0.52), (290, 0.06), (292, 1.09), (300, 0.91), (302, 0.93),
                (309, 0.91), (314, 1.02), (320, 1.6), (322, 2.12), (324, 1.92), (328, 3.61),
                (334, 0.84), (339, 1.29), (343, 1.95), (349, 2.29), (353, 2.29), (355, 2.95),
                (360, 1.34), (365, 0.93), (376, 1.62), (379, 2.0), (382, 2.1), (384, 4.72),
                (389, 1.79), (392, 1.34), (395, 1.1), (396, 1.28), (399, 1.03), (404, 2.81),
                (410, 1.19), (414, 2.41), (419, 2.59), (424, 1.55), (426, 1.79), (431, 1.5),
                (434, 2.14), (438, 3.79), (440, 2.34), (443, 1.52), (448, 2.38), (450, 2.07),
                (452, 3.88), (455, 2.07), (460, 0.97), (462, 2.07), (467, 2.88), (469, 2.72),
                (469, 2.9), (475, 2.74), (482, 3.09), (487, 2.69), (491, 1.52), (518, 4.47),
                (522, 3.19), (523, 2.59), (526, 2.63), (529, 3.03), (533, 1.91), (537, 1.83),
                (543, 1.59), (549, 3.85), (559, 3.9), (569, 3.05), (571, 1.66), (575, 2.1),
                (580, 1.97), (581, 5.59), (588, 1.85), (592, 1.62), (600, 4.24), (603, 2.93),
                (610, 2.76), (612, 2.0), (617, 2.03), (628, 3.55), (634, 2.45), (638, 2.93),
                (641, 2.1), (646, 2.31), (651, 2.41), (654, 3.76), (662, 2.34), (665, 2.28),
                (671, 2.38), (680, 2.07), (686, 3.34), (687, 3.31), (692, 4.94), (694, 4.21),
                (695, 4.69), (702, 3.76), (706, 3.76), (711, 4.81), (714, 5.97), (716, 3.76),
                (727, 4.07), (734, 3.76), (736, 4.03), (739, 2.66), (742, 4.07), (746, 3.14),
                (750, 3.79), (755, 3.1), (759, 5.02), (760, 4.52), (764, 5.48), (767, 3.03),
                (770, 2.95), (772, 3.24), (777, 4.48), (780, 4.24), (782, 3.79), (789, 4.14),
                (795, 5.48), (798, 3.45), (805, 4.57), (806, 5.24), (810, 4.07), (814, 4.97),
                (818, 5.71), (821, 5.64), (823, 5.19), (825, 4.28), (827, 4.06), (831, 4.06),
                (834, 4.06), (835, 3.14), (837, 2.71), (840, 5.81), (843, 4.41), (845, 3.14),
                (848, 4.15), (851, 4.9), (855, 2.98), (859, 1.5), (865, 4.06), (866, 3.85),
                (869, 1.5), (874, 4.93), (876, 5.0), (880, 4.79), (883, 4.07), (900, 2.98),
                (902, 2.34), (908, 2.19), (920, 1.0), (923, 2.38), (925, 1.59), (928, 1.1)]


def cols(pairs):
    a = np.array(pairs, dtype=float)
    return a[:, 0], a[:, 1]


def zigzag(triples):
    # each entry: one profile and the next one, alternating casts
    xs, ys = [], []
    for p, first, second in triples:
        xs += [p, p + 1]
        ys += [first, second]
    return np.array(xs, float), np.array(ys, float)


def band(segments):
    return np.concatenate([np.arange(a, b + 1) for a, b in segments])


def join(*parts):
    return np.concatenate([p[0] for p in parts]), np.concatenate([p[1] for p in parts])


def style(ax):
    ax.set_xlim(0.5, 951)
    ax.set_xticks(range(100, 1000, 100))
    ax.tick_params(direction='in', top=True, right=True, length=8, width=1,
                   labelsize=17, pad=6)
    for s in ax.spines.values():
        s.set_linewidth(1.0)


fig = plt.figure(figsize=(11.67, 15.63), dpi=100)
L, W = 0.078, 0.921

# ---- panel 1
ax1 = fig.add_axes([L, 0.785, W, 0.1875])
bx = band(rev_band)
ax1.plot(bx, np.zeros(len(bx)), 'o', mfc='none', mec=(0, 1, 0), ms=13, mew=1.2, clip_on=False)
bx = band(bad_t_band)
ax1.plot(bx, np.zeros(len(bx)), 'x', color='r', ms=10, mew=1.5, clip_on=False)
bx = band(bad_s_band)
ax1.plot(bx, np.zeros(len(bx)), '+', color='b', ms=12.5, mew=1.5, clip_on=False)
x, y = cols(rev_pts)
ax1.plot(x, y, 'o', mfc='none', mec=(0, 1, 0), ms=10, mew=1, clip_on=False)
x, y = cols(bad_t_pts)
ax1.plot(x, y, 'x', color='r', ms=8, mew=1.2, clip_on=False)
x, y = cols(bad_s_pts)
ax1.plot(x, y, '+', color='b', ms=10, mew=1.2, clip_on=False)
x, y = cols(bad_t_star)
ax1.plot(x, y, 'x', color='r', ms=8, mew=1.2, clip_on=False)
ax1.plot(x, y, '+', color='r', ms=10, mew=1.2, clip_on=False)
style(ax1)
ax1.set_ylim(-65, 3363)
ax1.set_yticks([0, 1000, 2000, 3000])
ax1.set_title('ITP58: bad (t) red, bad (s) blue, rev (t&s) green', fontsize=17.5, pad=11)

# ---- panel 2
ax2 = fig.add_axes([L, 0.533, W, 0.1836])
x, y = cols(diffvar_t)
ax2.plot(x, y, 'o', color='r', ms=4.3, mew=0, clip_on=False)
x, y = cols(diffvar_c)
ax2.plot(x, y, '-o', color='b', ms=4.3, mew=0, lw=1)
ax2.axhline(diffvar_thresh, color='k', lw=1.5, dashes=(6, 3.5), zorder=5)
style(ax2)
ax2.set_ylim(0, 4.05)
ax2.set_yticks([1, 2, 3, 4])
ax2.set_title('diffvar: (t) red, (c) blue', fontsize=17.5, pad=11)
ax2.text(0.0, 1.012, r'x 10$^{\mathregular{-4}}$', transform=ax2.transAxes,
         ha='left', va='bottom', fontsize=17)

# ---- panel 3
ax3 = fig.add_axes([L, 0.2777, W, 0.1830])
x, y = join(cols(pmin_a), zigzag(pmin_zz1), cols(pmin_b), zigzag(pmin_zz2), cols(pmin_c))
ax3.plot(x, y, '-o', color='b', ms=4, mew=0, lw=1.3)
x, y = join(cols(pmax_a), zigzag(pmax_zz1), cols(pmax_b), zigzag(pmax_zz2), cols(pmax_c),
            zigzag(pmax_zz3), cols(pmax_d))
ax3.plot(x, y, '-o', color='r', ms=4, mew=0, lw=1.3)
style(ax3)
ax3.set_ylim(199, 80.5)
ax3.set_yticks([100, 120, 140, 160, 180])
ax3.set_ylabel('depth (m)', fontsize=17, labelpad=8)
ax3.set_title('step region: pmin (b), pmax (r)', fontsize=17.5, pad=11)

# ---- panel 4
ax4 = fig.add_axes([L, 0.0218, W, 0.1830])
x, y = cols(lag_down_pts)
ax4.plot(x, y, 'o', color='r', ms=4.6, mew=0, clip_on=False)
x, y = cols(lag_up_pts)
ax4.plot(x, y, 'o', color='b', ms=4.6, mew=0, clip_on=False)
x, y = cols(lag_down_line)
ax4.plot(x, y, '-', color='r', lw=1.1)
x, y = cols(lag_up_line)
ax4.plot(x, y, '-', color='b', lw=1.1)
style(ax4)
ax4.set_ylim(0.05, 5.97)
ax4.set_yticks([1, 2, 3, 4, 5])
ax4.set_ylabel('lag (s)', fontsize=17, labelpad=10)
ax4.set_title('temperature lag: up blue, down red', fontsize=17.5, pad=11)

fig.savefig('out.png', dpi=100)
